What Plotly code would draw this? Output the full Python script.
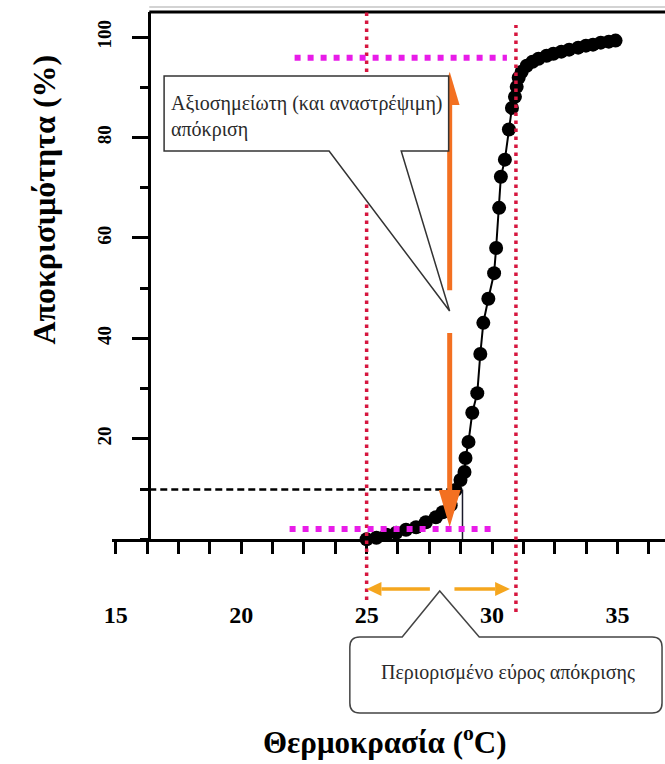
import plotly.graph_objects as go

# ---------------- data ----------------
temperature = [25.00, 25.39, 25.79, 26.18, 26.57, 26.97, 27.36, 27.76, 28.03, 28.35,
               28.54, 28.74, 28.90, 28.94, 29.06, 29.21, 29.41, 29.53, 29.65, 29.85,
               30.08, 30.16, 30.28, 30.35, 30.51, 30.67, 30.79, 30.91, 30.98, 31.06,
               31.18, 31.38, 31.61, 31.85, 32.17, 32.44, 32.76, 33.07, 33.43, 33.74,
               34.02, 34.33, 34.65, 34.92]
response = [0.0, 0.3, 0.9, 1.3, 1.9, 2.4, 3.4, 4.4, 5.4, 6.8,
            9.8, 11.8, 13.4, 16.2, 19.4, 25.2, 29.1, 36.9, 43.1, 47.9,
            53.0, 58.0, 66.0, 72.2, 75.6, 81.6, 85.9, 88.1, 90.1, 91.9,
            93.1, 94.3, 95.1, 95.7, 96.3, 96.7, 97.1, 97.5, 97.9, 98.3,
            98.5, 98.9, 99.1, 99.3]
x_ticks = [15, 20, 25, 30, 35]
y_ticks = [20, 40, 60, 80, 100]

# reference levels (data units)
onset_T = 25.0          # left red dotted line
end_T = 30.95           # right red dotted line
low_level = 2.05        # lower magenta line
high_level = 95.9       # upper magenta line
low_span = (21.93, 30.2)
high_span = (22.13, 30.59)
threshold = 9.9         # black dashed line
threshold_T = 28.82     # thin vertical to axis
switch_T = 28.31        # orange vertical arrow

x_label = "Θερμοκρασία (<sup>o</sup>C)"
y_label = "Αποκρισιμότητα (%)"
note_1 = "Αξιοσημείωτη (και αναστρέψιμη)<br>απόκριση"
note_2 = "Περιορισμένο εύρος απόκρισης"

# ---------------- layout geometry ----------------
W, H = 665, 764
X_RANGE = [14.843, 36.89]
Y_RANGE = [0, 105.0]
X_DOM = [105 / W, 1.0]
Y_DOM = [1 - 539.3 / H, 1 - 12 / H]
YAXIS_POS = 143 / W
ppu_x = (W * (X_DOM[1] - X_DOM[0])) / (X_RANGE[1] - X_RANGE[0])
axis_T = X_RANGE[0] + (143 - 105) / ppu_x
ppu_y = (H * (Y_DOM[1] - Y_DOM[0])) / (Y_RANGE[1] - Y_RANGE[0])


def px(x):
    return x / W


def py(y):
    return 1 - y / H


def dx(pixels):
    return pixels / ppu_x


def dy(pixels):
    return pixels / ppu_y


SERIF = "Liberation Serif"

fig = go.Figure()
fig.add_trace(go.Scatter(
    x=temperature, y=response, mode="lines+markers",
    line=dict(color="black", width=2),
    marker=dict(size=14, color="black"),
    cliponaxis=False, showlegend=False, hoverinfo="x+y"))

shapes = []
# top frame
shapes.append(dict(type="line", xref="paper", yref="paper", x0=YAXIS_POS, x1=1,
                   y0=py(7), y1=py(7), line=dict(color="#c4c4c4", width=1.5)))
shapes.append(dict(type="line", xref="paper", yref="paper", x0=YAXIS_POS, x1=1,
                   y0=Y_DOM[1], y1=Y_DOM[1], line=dict(color="black", width=3)))
# threshold dashed line + thin vertical
shapes.append(dict(type="line", xref="x", yref="y", x0=axis_T, x1=28.62,
                   y0=threshold, y1=threshold,
                   line=dict(color="black", width=2.5, dash="7px,4px")))
shapes.append(dict(type="line", xref="x", yref="y", x0=threshold_T, x1=threshold_T,
                   y0=0, y1=threshold, line=dict(color="#1a1a2a", width=1.5)))
# red dotted verticals
RED = "#d6163f"
shapes.append(dict(type="line", xref="x", yref="paper", x0=onset_T, x1=onset_T,
                   y0=py(600), y1=Y_DOM[1],
                   line=dict(color=RED, width=3.5, dash="3.5px,4.5px")))
shapes.append(dict(type="line", xref="x", yref="paper", x0=end_T, x1=end_T,
                   y0=py(612), y1=py(25),
                   line=dict(color=RED, width=3.5, dash="3.5px,4.5px")))
# magenta dotted horizontals
shapes.append(dict(type="line", xref="x", yref="y", x0=high_span[0], x1=high_span[1],
                   y0=high_level, y1=high_level,
                   line=dict(color="#e81ce8", width=6, dash="6px,7px")))
shapes.append(dict(type="line", xref="x", yref="y", x0=low_span[0], x1=low_span[1],
                   y0=low_level, y1=low_level,
                   line=dict(color="#e81ce8", width=6, dash="6px,7px")))

# orange vertical double arrow (with a gap)
ORANGE = "#f37021"
top_tip, top_base, top_gap = 93.1, 86.5, 49.6
bot_tip, bot_base, bot_gap = 2.45, 9.8, 41.1
shapes.append(dict(type="line", xref="x", yref="y", x0=switch_T, x1=switch_T,
                   y0=top_gap, y1=top_base, line=dict(color=ORANGE, width=5)))
shapes.append(dict(type="line", xref="x", yref="y", x0=switch_T, x1=switch_T,
                   y0=bot_gap, y1=bot_base, line=dict(color=ORANGE, width=5)))
hw = dx(10)
shapes.append(dict(type="path", xref="x", yref="y",
                   path=f"M {switch_T},{top_tip} L {switch_T + hw},{top_base} L {switch_T - hw},{top_base} Z",
                   fillcolor=ORANGE, line=dict(width=0)))
hw2 = dx(11)
shapes.append(dict(type="path", xref="x", yref="y",
                   path=f"M {switch_T},{bot_tip} L {switch_T + hw2},{bot_base} L {switch_T - hw2},{bot_base} Z",
                   fillcolor=ORANGE, line=dict(width=0)))

# amber horizontal arrows below the axis (response range)
AMBER = "#f5a61e"
ya = py(589)
hh = 7 / H
l_tail, l_base = 27.52, onset_T + dx(15)
r_tail, r_tip = 28.5, 30.71
r_base = r_tip - dx(15)
shapes.append(dict(type="line", xref="x", yref="paper", x0=l_tail, x1=l_base, y0=ya, y1=ya,
                   line=dict(color=AMBER, width=3.5)))
shapes.append(dict(type="path", xref="x", yref="paper",
                   path=f"M {onset_T},{ya} L {l_base},{ya + hh} L {l_base},{ya - hh} Z",
                   fillcolor=AMBER, line=dict(width=0)))
shapes.append(dict(type="line", xref="x", yref="paper", x0=r_tail, x1=r_base, y0=ya, y1=ya,
                   line=dict(color=AMBER, width=3.5)))
shapes.append(dict(type="path", xref="x", yref="paper",
                   path=f"M {r_tip},{ya} L {r_base},{ya + hh} L {r_base},{ya - hh} Z",
                   fillcolor=AMBER, line=dict(width=0)))


def pt(x, y):
    return f"{px(x):.5f},{py(y):.5f}"


# callout 1 (rectangle with wedge)
c1 = [(158, 76), (446, 76), (446, 151), (398, 151), (447, 311), (325, 151), (158, 151)]
path1 = "M " + " L ".join(pt(x, y) for x, y in c1) + " Z"
shapes.append(dict(type="path", xref="paper", yref="paper", path=path1,
                   fillcolor="white", line=dict(color="#333333", width=1.5)))

# callout 2 (rounded box with triangle pointer)
x0, x1, y0, y1, r = 346, 662, 637, 713, 10
path2 = (f"M {pt(x0 + r, y0)} L {pt(399, y0)} L {pt(437, 591)} L {pt(477, y0)} "
         f"L {pt(x1 - r, y0)} Q {pt(x1, y0)} {pt(x1, y0 + r)} L {pt(x1, y1 - r)} "
         f"Q {pt(x1, y1)} {pt(x1 - r, y1)} L {pt(x0 + r, y1)} Q {pt(x0, y1)} {pt(x0, y1 - r)} "
         f"L {pt(x0, y0 + r)} Q {pt(x0, y0)} {pt(x0 + r, y0)} Z")
shapes.append(dict(type="path", xref="paper", yref="paper", path=path2,
                   fillcolor="white", line=dict(color="#444444", width=1.5)))

for s in shapes:
    s["layer"] = "above"

annotations = [
    dict(text=note_1, x=px(163), y=py(116), xref="paper", yref="paper",
         xanchor="left", yanchor="middle", align="left", showarrow=False,
         font=dict(family=SERIF, size=20, color="#2a2a2a")),
    dict(text=note_2, x=px(506), y=py(672), xref="paper", yref="paper",
         xanchor="center", yanchor="middle", showarrow=False,
         font=dict(family=SERIF, size=20, color="#2a2a2a")),
    dict(text=y_label, x=px(36), y=py(200), xref="paper", yref="paper",
         textangle=-90, xanchor="center", yanchor="middle", showarrow=False,
         font=dict(family=SERIF, size=32, color="black", weight="bold")),
    dict(text=x_label, x=px(382), y=py(740), xref="paper", yref="paper",
         xanchor="center", yanchor="middle", showarrow=False,
         font=dict(family=SERIF, size=31, color="black", weight="bold")),
]

fig.update_layout(
    width=W, height=H, autosize=False,
    margin=dict(l=0, r=0, t=0, b=0, pad=0),
    paper_bgcolor="white", plot_bgcolor="white",
    showlegend=False,
    shapes=shapes, annotations=annotations,
    xaxis=dict(range=X_RANGE, domain=X_DOM, anchor="y",
               showline=True, linecolor="black", linewidth=3,
               showgrid=False, zeroline=False,
               tickmode="array", tickvals=x_ticks,
               ticks="outside", ticklen=12, tickwidth=2.5, tickcolor="black",
               ticklabelstandoff=40,
               tickfont=dict(family=SERIF, size=24, color="black", weight="bold"),
               minor=dict(tickmode="linear", tick0=15, dtick=1.25, ticks="outside",
                          ticklen=12, tickwidth=2.5, tickcolor="black", showgrid=False)),
    yaxis=dict(range=Y_RANGE, domain=Y_DOM, anchor="free", position=YAXIS_POS,
               showline=True, linecolor="black", linewidth=3,
               showgrid=False, zeroline=False,
               tickmode="array", tickvals=y_ticks, tickangle=-90,
               ticks="outside", ticklen=16, tickwidth=2.5, tickcolor="black",
               ticklabelstandoff=14,
               tickfont=dict(family=SERIF, size=19, color="black", weight="bold"),
               minor=dict(tickmode="linear", tick0=0, dtick=10, ticks="outside",
                          ticklen=8, tickwidth=2.5, tickcolor="black", showgrid=False)),
)

fig.write_html("out.html")
